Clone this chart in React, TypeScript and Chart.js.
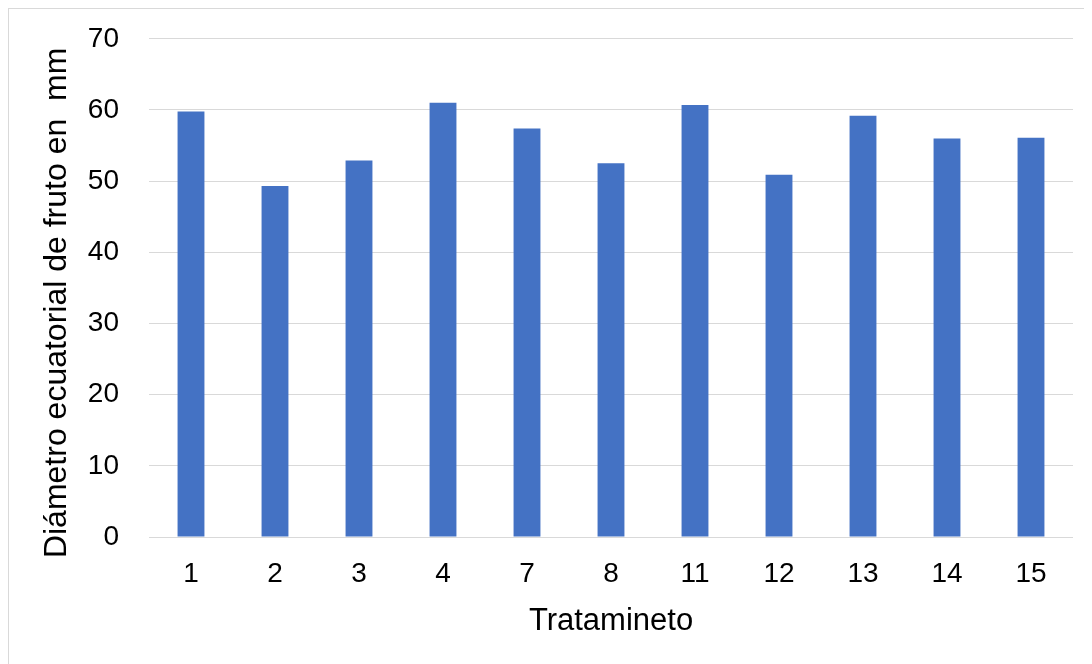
import React, { useEffect, useRef } from "react";
import { Chart, registerables } from "chart.js";

Chart.register(...registerables);

// Treatments and their mean equatorial fruit diameter (mm)
const tratamientos = ["1", "2", "3", "4", "7", "8", "11", "12", "13", "14", "15"];
const diametro = [59.8, 49.3, 52.9, 61.0, 57.4, 52.5, 60.7, 50.9, 59.2, 56.0, 56.1];
const yTitle = "Diámetro ecuatorial de fruto en  mm";
const xTitle = "Tratamineto";

const FONT = '"Liberation Sans", Arial, sans-serif';

// Rotated y-axis title, placed slightly below the plot's vertical centre
const yTitlePlugin = {
  id: "yTitle",
  afterDraw(chart: any) {
    const { ctx, chartArea } = chart;
    ctx.save();
    ctx.translate(48, (chartArea.top + chartArea.bottom) / 2 + 15);
    ctx.rotate(-Math.PI / 2);
    ctx.font = `32px ${FONT}`;
    ctx.fillStyle = "#000000";
    ctx.textAlign = "center";
    ctx.textBaseline = "middle";
    ctx.fillText(yTitle, 0, 0);
    ctx.restore();
  },
};

export default function App() {
  const canvasRef = useRef<HTMLCanvasElement | null>(null);

  useEffect(() => {
    if (!canvasRef.current) return;
    const chart = new Chart(canvasRef.current, {
      type: "bar",
      data: {
        labels: tratamientos,
        datasets: [
          {
            data: diametro,
            backgroundColor: "#4472C4",
            borderWidth: 0,
            barPercentage: 0.32,
            categoryPercentage: 1,
          },
        ],
      },
      options: {
        animation: false,
        responsive: true,
        maintainAspectRatio: false,
        layout: { padding: { top: 0, right: 19, left: 0, bottom: 0 } },
        plugins: {
          legend: { display: false },
          tooltip: { enabled: false },
        },
        scales: {
          x: {
            grid: { display: false, drawTicks: false },
            border: { display: false },
            ticks: {
              color: "#000000",
              font: { family: FONT, size: 28 },
              padding: 20,
            },
            title: {
              display: true,
              text: xTitle,
              color: "#000000",
              font: { family: FONT, size: 31 },
              padding: { top: 0, bottom: 24 },
            },
            afterFit(scale: any) {
              scale.height = 127;
            },
          },
          y: {
            min: 0,
            max: 70,
            ticks: {
              stepSize: 10,
              color: "#000000",
              font: { family: FONT, size: 28 },
              padding: 13,
            },
            grid: {
              color: "#d9d9d9",
              lineWidth: 1,
              drawTicks: true,
              tickLength: 17,
              tickColor: "rgba(0,0,0,0)",
            },
            border: { display: false },
            afterFit(scale: any) {
              scale.width = 140;
            },
          },
        },
      },
      plugins: [yTitlePlugin],
    });
    return () => chart.destroy();
  }, []);

  return (
    <div
      style={{
        boxSizing: "border-box",
        width: 1084,
        height: 656,
        borderTop: "1px solid #d9d9d9",
        borderLeft: "1px solid #d9d9d9",
        background: "#ffffff",
      }}
    >
      <div style={{ position: "relative", width: "100%", height: "100%" }}>
        <canvas ref={canvasRef} />
      </div>
    </div>
  );
}
